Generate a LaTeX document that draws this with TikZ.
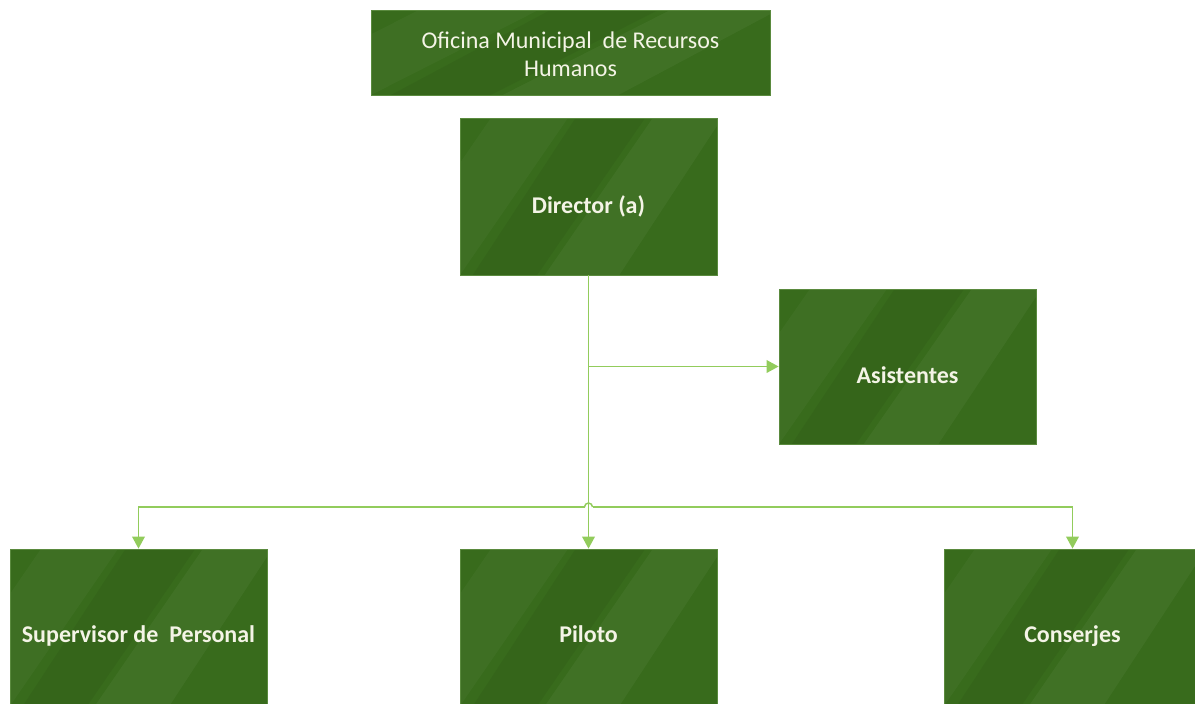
\documentclass[tikz,border=0pt]{standalone}
\usepackage{fontspec}
\setmainfont{Carlito}
\usetikzlibrary{arrows.meta,calc}
\definecolor{boxg}{HTML}{386B1C}
\definecolor{boxedge}{HTML}{5A8A3E}
\definecolor{lineg}{HTML}{92CC5C}
\definecolor{txt}{HTML}{F4F4E6}
\newcommand{\lowtext}[2]{\raisebox{#1}[\height][\depth]{\begin{tabular}{@{}c@{}}#2\end{tabular}}}
\tikzset{
  orgbox/.style={draw=boxedge, line width=0.6pt, fill=boxg, text=txt, align=center,
    minimum width=192.75pt, minimum height=117.75pt, inner sep=2pt,
    font=\fontsize{18}{22}\selectfont\bfseries,
    path picture={
      \coordinate (sw) at (path picture bounding box.south west);
      \coordinate (ne) at (path picture bounding box.north east);
      \coordinate (se) at (sw-|ne);
      \coordinate (nw) at (sw|-ne);
      \fill[black,opacity=0.05] ($(sw)!0.05!(se)$) -- ($(sw)!0.30!(se)$) -- ($(nw)!0.72!(ne)$) -- ($(nw)!0.45!(ne)$) -- cycle;
      \fill[white,opacity=0.045] ($(sw)!0.33!(se)$) -- ($(sw)!0.62!(se)$) -- ($(nw)!1.02!(ne)$) -- ($(nw)!0.75!(ne)$) -- cycle;
      \fill[white,opacity=0.03] ($(sw)!-0.3!(se)$) -- ($(sw)!0.0!(se)$) -- ($(nw)!0.42!(ne)$) -- ($(nw)!0.12!(ne)$) -- cycle;
    }},
  titlebox/.style={orgbox, minimum width=299.25pt, minimum height=63.75pt,
    font=\fontsize{18}{21}\selectfont},
  conn/.style={draw=lineg, line width=1.1pt, -{Triangle[length=9pt,width=9.5pt]}},
  plain/.style={draw=lineg, line width=1.1pt}
}
\begin{document}
\begin{tikzpicture}[x=0.75pt,y=-0.75pt]
\useasboundingbox (0,0) rectangle (1195,703);
\node[titlebox] (top) at (570.5,52.5) {\lowtext{-3.5pt}{Oficina Municipal~ de Recursos\\Humanos}};
\node[orgbox] (dir) at (588.5,196.5) {\lowtext{-8pt}{Director (a)}};
\node[orgbox, minimum height=116.25pt] (asi) at (907.5,366.5) {\lowtext{-8pt}{Asistentes}};
\node[orgbox] (sup) at (138.5,627.5) {\lowtext{-6.5pt}{Supervisor de~ Personal}};
\node[orgbox] (pil) at (588.5,627.5) {\lowtext{-6.5pt}{Piloto}};
\node[orgbox] (con) at (1072.5,627.5) {\lowtext{-6.5pt}{Conserjes}};
\coordinate (ba) at (dir.south |- asi.west);
\coordinate (hl) at ($(dir.south |- 0,507)+(-4,0)$);
\coordinate (hr) at ($(dir.south |- 0,507)+(4,0)$);
\draw[conn] (dir.south) -- (pil.north);
\draw[conn] (ba) -- (asi.west);
\draw[conn] (hl) -| (sup.north);
\draw[conn] (hr) -| (con.north);
\draw[plain] (hl) arc[start angle=180, end angle=360, radius=4];
\end{tikzpicture}
\end{document}
